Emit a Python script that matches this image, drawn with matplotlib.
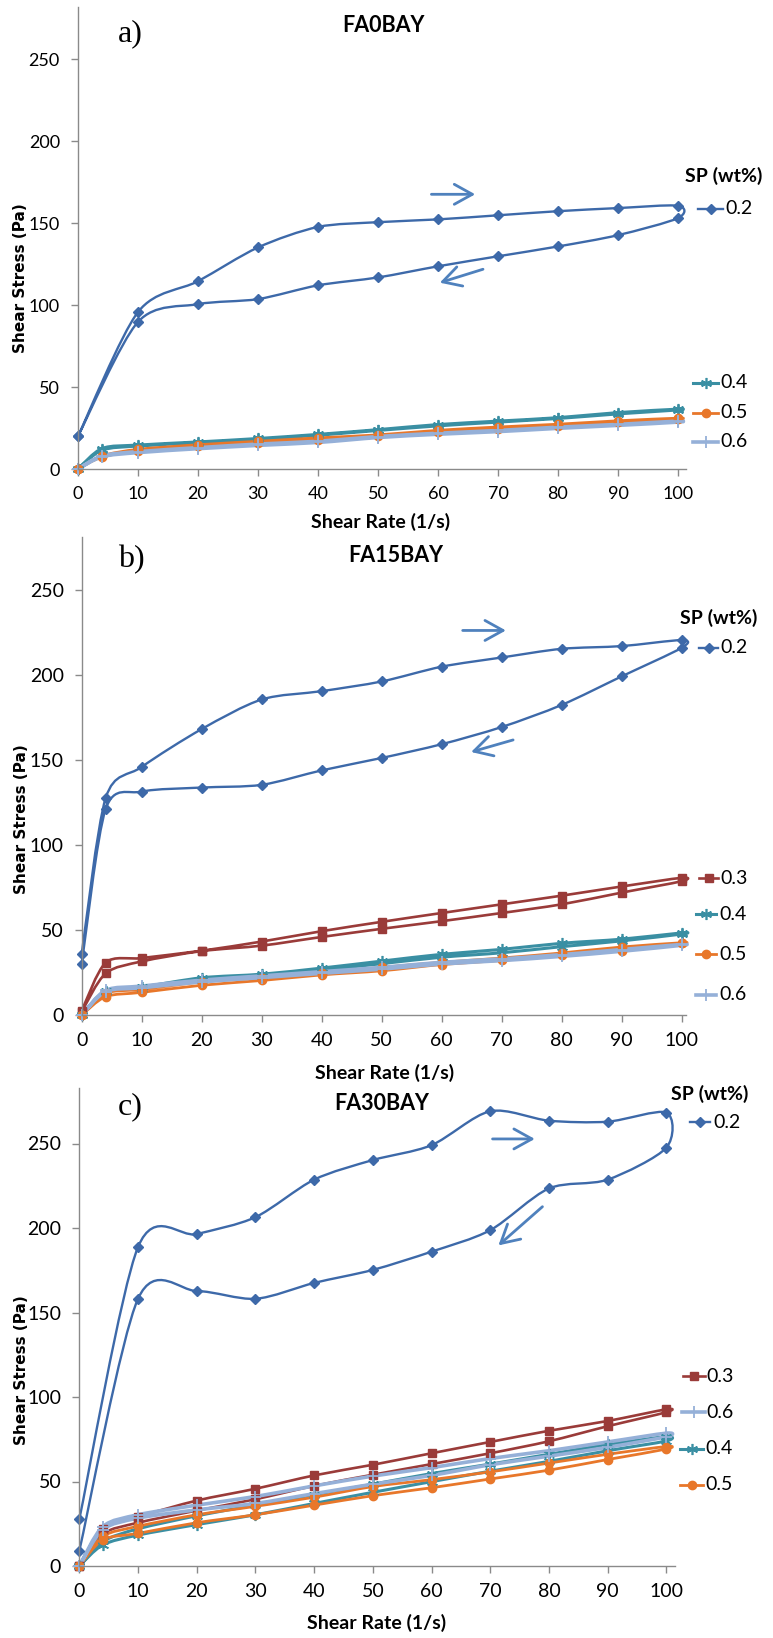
import numpy as np
import matplotlib
matplotlib.use("Agg")
import matplotlib.pyplot as plt
from matplotlib.path import Path
from matplotlib.patches import PathPatch
from matplotlib.lines import Line2D

plt.rcParams['font.family'] = ['Lato', 'DejaVu Sans']

# shear rate steps (1/s)
rate = [0, 10, 20, 30, 40, 50, 60, 70, 80, 90, 100]
rate4 = [0, 4, 10, 20, 30, 40, 50, 60, 70, 80, 90, 100]
yticks = [0, 50, 100, 150, 200, 250]
xticks = [0, 10, 20, 30, 40, 50, 60, 70, 80, 90, 100]

# a) FA0BAY  (up = increasing rate, dn = decreasing rate, both listed by ascending rate)
a_02_up = [20, 95.7, 114.5, 135.1, 147.6, 150.5, 152.2, 154.7, 157.2, 159.1, 160.5]
a_02_dn = [20, 89.7, 100.5, 103.6, 112.0, 116.8, 123.6, 129.7, 135.7, 142.6, 153.0]
a_04_up = [0, 12.5, 14.6, 16.5, 18.6, 21.1, 24.0, 27.1, 29.2, 31.3, 34.4, 36.5]
a_04_dn = [0, 11.5, 14.0, 16.0, 18.0, 20.6, 23.5, 26.3, 28.6, 30.8, 33.6, 36.0]
a_05_up = [0, 8.0, 12.0, 14.8, 16.9, 19.0, 20.8, 23.6, 25.6, 27.3, 29.4, 31.0]
a_05_dn = [0, 7.3, 11.0, 13.8, 15.8, 17.8, 20.0, 22.4, 24.4, 26.4, 28.6, 30.4]
a_06_up = [0, 8.0, 10.6, 13.0, 15.2, 16.9, 19.8, 21.8, 23.5, 25.5, 27.2, 29.2]
a_06_dn = [0, 7.5, 10.0, 12.4, 14.4, 16.2, 19.2, 21.2, 22.8, 24.8, 26.6, 28.6]

# b) FA15BAY
b_02_up = [36, 127.7, 145.9, 168.2, 185.6, 190.5, 196.2, 204.9, 210.3, 215.4, 217.0, 220.5]
b_02_dn = [30, 121.2, 131.4, 133.8, 135.4, 143.9, 151.2, 159.3, 169.4, 182.4, 199.2, 216.0]
b_03_up = [2.5, 30.8, 33.5, 37.8, 43.2, 49.3, 54.8, 60.0, 65.1, 70.2, 75.6, 80.7]
b_03_dn = [2.0, 24.5, 31.5, 37.6, 40.8, 45.9, 50.7, 55.2, 60.0, 65.1, 72.0, 78.7]
b_04_up = [0, 14.3, 16.5, 21.9, 24.0, 27.6, 31.7, 35.7, 38.6, 42.2, 44.6, 48.3]
b_04_dn = [0, 13.5, 15.5, 20.6, 23.2, 26.4, 30.2, 34.0, 36.6, 40.2, 43.6, 47.6]
b_05_up = [0, 12.8, 15.0, 19.5, 22.0, 25.0, 28.0, 31.0, 33.5, 36.5, 40.0, 42.5]
b_05_dn = [0, 10.8, 13.3, 17.5, 20.3, 23.6, 26.0, 29.7, 32.1, 35.1, 37.8, 42.2]
b_06_up = [0, 14.5, 17.0, 20.5, 23.0, 25.5, 28.0, 31.0, 33.0, 35.5, 38.5, 41.5]
b_06_dn = [0, 13.8, 16.0, 19.5, 22.0, 24.5, 27.0, 30.0, 32.0, 34.5, 37.5, 41.0]

# c) FA30BAY
c_02_up = [27.6, 188.7, 196.4, 206.4, 228.6, 240.2, 249.0, 269.1, 263.5, 262.9, 268.3]
c_02_dn = [8.9, 158.1, 162.7, 158.1, 167.5, 175.2, 186.0, 198.7, 223.4, 228.6, 247.5]
c_03_up = [0, 22.0, 29.1, 38.7, 45.7, 53.6, 59.9, 66.7, 73.4, 80.0, 85.8, 92.7]
c_03_dn = [0, 19.0, 25.6, 32.8, 39.5, 47.4, 54.0, 60.3, 66.7, 73.8, 82.7, 91.0]
c_04_up = [0, 14.5, 22.0, 29.7, 36.0, 42.2, 48.4, 54.7, 60.3, 66.1, 71.9, 76.5]
c_04_dn = [0, 12.5, 18.3, 24.5, 30.3, 37.0, 43.6, 49.9, 56.1, 61.9, 68.2, 74.0]
c_05_up = [0, 17.5, 23.5, 30.3, 35.3, 40.7, 47.0, 51.1, 55.7, 60.9, 66.1, 70.7]
c_05_dn = [0, 15.5, 19.3, 25.6, 30.3, 36.0, 41.6, 46.3, 51.5, 56.7, 63.0, 69.2]
c_06_up = [0, 23.3, 30.3, 36.0, 41.1, 47.4, 53.2, 58.2, 63.6, 68.2, 73.4, 78.6]
c_06_dn = [0, 21.5, 28.3, 33.2, 37.0, 42.8, 48.4, 53.6, 59.9, 65.0, 70.2, 76.5]

# series styles
style = {
    '0.2': dict(color='#3D69A9', marker='D', ms=5, lw=1.7, mew=1),
    '0.3': dict(color='#9A3B39', marker='s', ms=6, lw=1.9, mew=1),
    '0.4': dict(color='#3A8FA3', marker=(6, 2, 0), ms=8, lw=2.2, mew=1.2),
    '0.5': dict(color='#E8772A', marker='o', ms=6, lw=2.0, mew=1),
    '0.6': dict(color='#95B0D8', marker='+', ms=8, lw=2.6, mew=1.3),
}
axis_gray = '#8A8A8A'
arrow_col = '#4F81BD'

W, H = 773, 1638
fig = plt.figure(figsize=(W / 100, H / 100), dpi=100)


def fx(x):
    return x / W


def fy(y):
    return 1 - y / H


def smooth_path(xs, ys, k=7.0):
    P = np.column_stack([xs, ys]).astype(float)
    n = len(P)
    verts = [P[0]]
    codes = [Path.MOVETO]
    for i in range(n - 1):
        p0 = P[i - 1] if i > 0 else P[i]
        p3 = P[i + 2] if i + 2 < n else P[i + 1]
        c1 = P[i] + (P[i + 1] - p0) / k
        c2 = P[i + 1] - (p3 - P[i]) / k
        verts += [c1, c2, P[i + 1]]
        codes += [Path.CURVE4] * 3
    return Path(verts, codes)


def draw_loop(ax, xs, up, dn, key):
    s = style[key]
    lx = list(xs) + list(xs[::-1])
    ly = list(up) + list(dn[::-1])
    patch = PathPatch(smooth_path(lx, ly), fill=False, edgecolor=s['color'],
                      lw=s['lw'], joinstyle='round', capstyle='round', clip_on=False)
    ax.add_patch(patch)
    ax.plot(lx, ly, linestyle='none', marker=s['marker'], ms=s['ms'], mew=s['mew'],
            color=s['color'], mec=s['color'], clip_on=False)


def legend_entry(key, x1, x2, tx, y, size=14):
    s = style[key]
    mid = (x1 + x2) / 2
    fig.add_artist(Line2D([fx(x1), fx(mid), fx(x2)], [fy(y)] * 3, transform=fig.transFigure,
                          color=s['color'], lw=s['lw'], marker=s['marker'], markevery=[1],
                          ms=s['ms'], mew=s['mew'], mec=s['color']))
    fig.text(fx(tx), fy(y), key, fontsize=size, ha='left', va='center')


def make_axes(left, bottom, sx, sy, xmax, ymax, tsize):
    ax = fig.add_axes([left / W, (H - bottom) / H, xmax * sx / W, ymax * sy / H])
    ax.set_xlim(0, xmax)
    ax.set_ylim(0, ymax)
    ax.set_facecolor('none')
    for sp in ['top', 'right']:
        ax.spines[sp].set_visible(False)
    for sp in ['left', 'bottom']:
        ax.spines[sp].set_color(axis_gray)
        ax.spines[sp].set_linewidth(1)
    ax.set_xticks(xticks)
    ax.set_yticks(yticks)
    ax.tick_params(direction='out', length=5, width=1, color=axis_gray, labelsize=tsize)
    ax.tick_params(axis='x', pad=7)
    ax.tick_params(axis='y', pad=8)
    return ax


def labels(letter, lxy, title, txy, xl_xy, yl_xy):
    fig.text(fx(lxy[0]), fy(lxy[1]), letter, family='Liberation Serif', fontsize=23,
             ha='center', va='center')
    fig.text(fx(txy[0]), fy(txy[1]), title, fontsize=15.5, fontweight='bold', ha='center', va='center')
    fig.text(fx(xl_xy[0]), fy(xl_xy[1]), 'Shear Rate (1/s)', fontsize=14, fontweight='bold',
             ha='center', va='center')
    fig.text(fx(yl_xy[0]), fy(yl_xy[1]), 'Shear Stress (Pa)', family='DejaVu Sans', fontsize=11,
             fontweight='bold', rotation=90, ha='center', va='center')


def arrows(ax, right, left):
    for (x0, y0, x1, y1) in (right, left):
        ax.annotate('', xy=(x1, y1), xytext=(x0, y0),
                    arrowprops=dict(arrowstyle='->,head_length=0.65,head_width=0.36',
                                    color=arrow_col, lw=2, mutation_scale=20, shrinkA=0, shrinkB=0))


# ---- a) ----
ax = make_axes(78, 469, 6.0, 1.64, 101.3, 282, 13)
draw_loop(ax, rate, a_02_up, a_02_dn, '0.2')
draw_loop(ax, rate4, a_04_up, a_04_dn, '0.4')
draw_loop(ax, rate4, a_05_up, a_05_dn, '0.5')
draw_loop(ax, rate4, a_06_up, a_06_dn, '0.6')
arrows(ax, (58.9, 167.5, 66.2, 167.5), (67.5, 121.8, 60.3, 113.6))
labels('a)', (130, 34), 'FA0BAY', (383, 25), (381, 522), (21, 278))
fig.text(fx(724), fy(176), 'SP (wt%)', fontsize=14, fontweight='bold', ha='center', va='center')
legend_entry('0.2', 698, 723, 725, 209)
legend_entry('0.4', 693, 718, 720, 383)
legend_entry('0.5', 693, 718, 720, 413)
legend_entry('0.6', 693, 718, 720, 442)

# ---- b) ----
ax = make_axes(81.7, 1015, 6.0, 1.70, 100.7, 281, 14)
draw_loop(ax, rate4, b_02_up, b_02_dn, '0.2')
draw_loop(ax, rate4, b_03_up, b_03_dn, '0.3')
draw_loop(ax, rate4, b_04_up, b_04_dn, '0.4')
draw_loop(ax, rate4, b_05_up, b_05_dn, '0.5')
draw_loop(ax, rate4, b_06_up, b_06_dn, '0.6')
arrows(ax, (63.5, 226.2, 70.7, 226.2), (71.9, 161.8, 64.9, 154.7))
labels('b)', (131, 560), 'FA15BAY', (396, 556), (385, 1073), (22, 819))
fig.text(fx(719), fy(618), 'SP (wt%)', fontsize=14, fontweight='bold', ha='center', va='center')
legend_entry('0.2', 699, 718, 720, 648)
legend_entry('0.3', 699, 718, 720, 878)
legend_entry('0.4', 696, 716, 719, 914)
legend_entry('0.5', 696, 716, 719, 954)
legend_entry('0.6', 696, 716, 719, 995)

# ---- c) ----
ax = make_axes(79.3, 1566, 5.87, 1.69, 101.5, 283, 14)
draw_loop(ax, rate, c_02_up, c_02_dn, '0.2')
draw_loop(ax, rate4, c_03_up, c_03_dn, '0.3')
draw_loop(ax, rate4, c_04_up, c_04_dn, '0.4')
draw_loop(ax, rate4, c_05_up, c_05_dn, '0.5')
draw_loop(ax, rate4, c_06_up, c_06_dn, '0.6')
arrows(ax, (70.4, 252.7, 77.6, 252.7), (78.9, 212.6, 71.4, 189.7))
labels('c)', (130, 1107), 'FA30BAY', (382, 1103), (377, 1623), (22, 1370))
fig.text(fx(710), fy(1094), 'SP (wt%)', fontsize=14, fontweight='bold', ha='center', va='center')
legend_entry('0.2', 690, 710, 713, 1122)
legend_entry('0.3', 683, 705, 706, 1376)
legend_entry('0.6', 682, 705, 706, 1412)
legend_entry('0.4', 680, 703, 705, 1449)
legend_entry('0.5', 680, 703, 705, 1485)

fig.savefig('out.png', dpi=100)
